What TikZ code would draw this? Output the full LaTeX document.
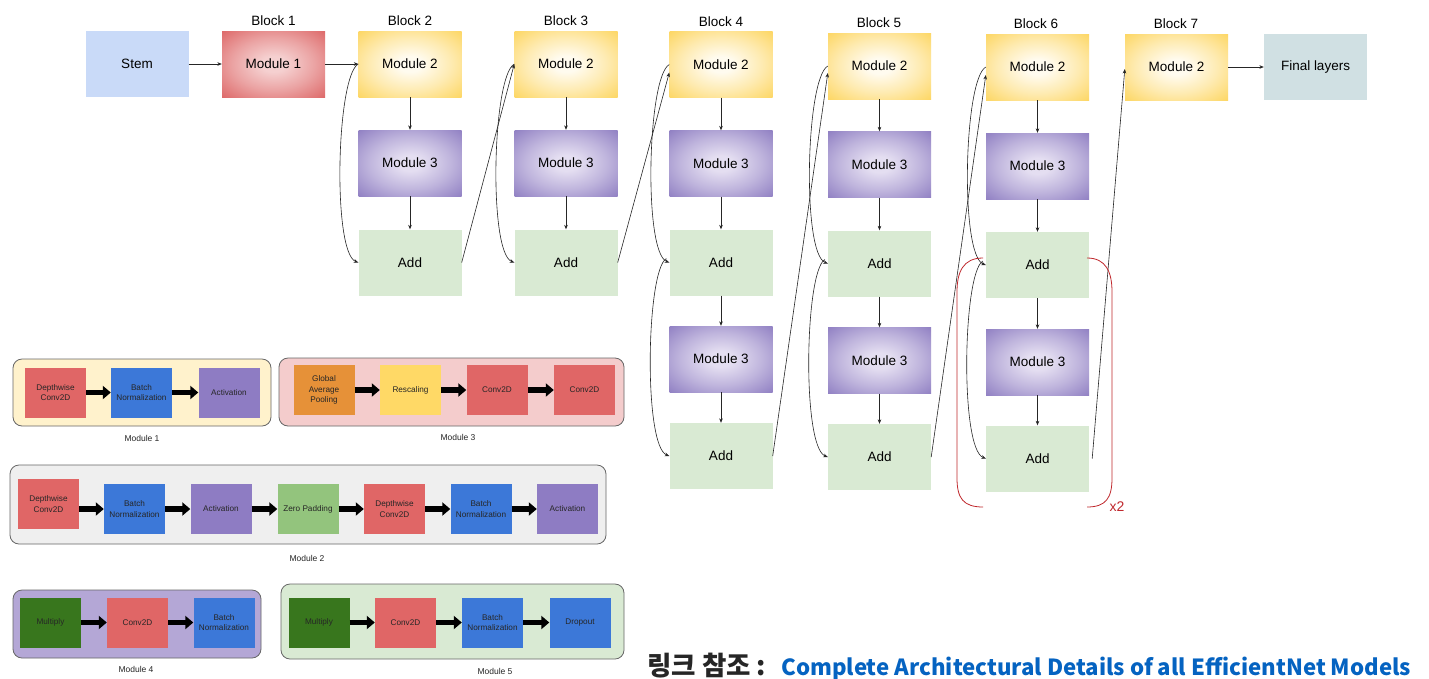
\documentclass[tikz,border=0pt]{standalone}
\usepackage{fontspec}
\setmainfont{Liberation Sans}
\newfontfamily\krfont{Noto Sans CJK KR}
\usetikzlibrary{arrows.meta}
\definecolor{stemc}{HTML}{C9DAF8}
\definecolor{mAin}{HTML}{F5D0D0}
\definecolor{mAout}{HTML}{DE6B6B}
\definecolor{mBin}{HTML}{FFFBEF}
\definecolor{mBout}{HTML}{FDD766}
\definecolor{mCin}{HTML}{E4DEF1}
\definecolor{mCout}{HTML}{9282C4}
\colorlet{mAmid}{mAin!55!mAout}
\colorlet{mBmid}{mBin!55!mBout}
\colorlet{mCmid}{mCin!55!mCout}
\definecolor{addc}{HTML}{D9EAD3}
\definecolor{finc}{HTML}{D0E0E3}
\definecolor{lred}{HTML}{E06666}
\definecolor{lblue}{HTML}{3C78D8}
\definecolor{lpurple}{HTML}{8E7CC3}
\definecolor{lorange}{HTML}{E69138}
\definecolor{lyellow}{HTML}{FFD966}
\definecolor{lgreen}{HTML}{93C47D}
\definecolor{ldgreen}{HTML}{38761D}
\definecolor{pyellow}{HTML}{FFF2CC}
\definecolor{ppink}{HTML}{F4CCCC}
\definecolor{pgray}{HTML}{EFEFEF}
\definecolor{ppurple}{HTML}{B4A7D6}
\definecolor{pgreen}{HTML}{D9EAD3}
\definecolor{bred}{HTML}{C0282D}
\definecolor{linkblue}{HTML}{0563C1}
\definecolor{krblack}{HTML}{262626}
\pgfdeclareradialshading{glowA}{\pgfpoint{0bp}{0bp}}{color(0bp)=(mAin); color(6bp)=(mAin); color(20bp)=(mAmid); color(35bp)=(mAout); color(50bp)=(mAout)}
\pgfdeclareradialshading{glowB}{\pgfpoint{0bp}{0bp}}{color(0bp)=(mBin); color(6bp)=(mBin); color(20bp)=(mBmid); color(35bp)=(mBout); color(50bp)=(mBout)}
\pgfdeclareradialshading{glowC}{\pgfpoint{0bp}{0bp}}{color(0bp)=(mCin); color(6bp)=(mCin); color(20bp)=(mCmid); color(35bp)=(mCout); color(50bp)=(mCout)}
\begin{document}
\begin{tikzpicture}[x=1pt,y=-1pt,
  topbox/.style={minimum width=103pt,minimum height=66pt,inner sep=0pt,font=\fontsize{13.5}{16}\selectfont},
  stembox/.style={topbox,fill=stemc},
  modone/.style={topbox,shade,shading=glowA},
  modtwo/.style={topbox,shade,shading=glowB},
  modthree/.style={topbox,shade,shading=glowC},
  addbox/.style={topbox,fill=addc},
  finbox/.style={topbox,fill=finc},
  blocklabel/.style={font=\fontsize{13.5}{16}\selectfont,inner sep=0pt},
  conn/.style={draw=black!85,line width=0.6pt,-{Stealth[length=4.5pt,width=3.6pt]}},
  panel/.style={draw=black!60,line width=0.8pt,rounded corners=9pt},
  lbox/.style={minimum width=61pt,minimum height=50pt,inner sep=1pt,align=center,font=\fontsize{8.2}{10.5}\selectfont,text=black!85},
  plabel/.style={font=\fontsize{8.5}{10}\selectfont,text=black!85,inner sep=0pt},
  blkarrow/.style={line width=5.5pt,black,-{Triangle[length=8pt,width=13pt]}},
  bracket/.style={draw=bred,line width=0.8pt},
]
\useasboundingbox (0,0) rectangle (1429,678);
\fill[white] (0,0) rectangle (1429,678);

% ---------- top row ----------
\node[stembox] (stem) at (137,64) {Stem};
\node[modone] (m1) at (273.5,64) {Module 1};
\node[blocklabel] (bl1) at (273.5,21) {Block 1};

\node[modtwo] (b2a) at (410,64) {Module 2};
\node[modthree] (b2b) at (410,163) {Module 3};
\node[addbox] (b2c) at (410,262.5) {Add};
\node[blocklabel] (bl2) at (410,21) {Block 2};

\node[modtwo] (b3a) at (566,64) {Module 2};
\node[modthree] (b3b) at (566,163) {Module 3};
\node[addbox] (b3c) at (566,262.5) {Add};
\node[blocklabel] (bl3) at (566,21) {Block 3};

\node[modtwo] (b4a) at (721,64.5) {Module 2};
\node[modthree] (b4b) at (721,163.5) {Module 3};
\node[addbox] (b4c) at (721,262.5) {Add};
\node[modthree] (b4d) at (721,359) {Module 3};
\node[addbox] (b4e) at (721,456) {Add};
\node[blocklabel] (bl4) at (721,22) {Block 4};

\node[modtwo] (b5a) at (879.5,66) {Module 2};
\node[modthree] (b5b) at (879.5,164.5) {Module 3};
\node[addbox] (b5c) at (879.5,263.5) {Add};
\node[modthree] (b5d) at (879.5,360.5) {Module 3};
\node[addbox] (b5e) at (879.5,457) {Add};
\node[blocklabel] (bl5) at (879,23) {Block 5};

\node[modtwo] (b6a) at (1037.5,67) {Module 2};
\node[modthree] (b6b) at (1037.5,166) {Module 3};
\node[addbox] (b6c) at (1037.5,265) {Add};
\node[modthree] (b6d) at (1037.5,362) {Module 3};
\node[addbox] (b6e) at (1037.5,458.5) {Add};
\node[blocklabel] (bl6) at (1036,24) {Block 6};

\node[modtwo] (b7a) at (1176.5,67) {Module 2};
\node[blocklabel] (bl7) at (1176,24) {Block 7};
\node[finbox] (fin) at (1315.5,67) {Final layers};

% connectors
\draw[conn] (stem) -- (m1);
\draw[conn] (m1) -- (b2a);
\draw[conn] (b2a) -- (b2b);
\draw[conn] (b2b) -- (b2c);
\draw[conn] (b2a.west) .. controls +(-22,12) and +(-26,-10) .. (b2c.west);
\draw[conn] (b2c.east) -- (b3a.west);
\draw[conn] (b3a) -- (b3b);
\draw[conn] (b3b) -- (b3c);
\draw[conn] (b3a.west) .. controls +(-22,12) and +(-26,-10) .. (b3c.west);
\draw[conn] (b3c.east) -- ([yshift=-8pt]b4a.west);
\draw[conn] (b4a) -- (b4b);
\draw[conn] (b4b) -- (b4c);
\draw[conn] (b4c) -- (b4d);
\draw[conn] (b4d) -- (b4e);
\draw[conn] (b4a.west) .. controls +(-22,12) and +(-26,-10) .. (b4c.west);
\draw[conn] ([xshift=-3pt,yshift=4pt]b4c.west) .. controls +(-20,12) and +(-26,-10) .. (b4e.west);
\draw[conn] (b4e.east) -- ([yshift=-7pt]b5a.west);
\draw[conn] (b5a) -- (b5b);
\draw[conn] (b5b) -- (b5c);
\draw[conn] (b5c) -- (b5d);
\draw[conn] (b5d) -- (b5e);
\draw[conn] (b5a.west) .. controls +(-22,12) and +(-26,-10) .. (b5c.west);
\draw[conn] ([xshift=-3pt,yshift=4pt]b5c.west) .. controls +(-20,12) and +(-26,-10) .. (b5e.west);
\draw[conn] (b5e.east) -- ([yshift=-8pt]b6a.west);
\draw[conn] (b6a) -- (b6b);
\draw[conn] (b6b) -- (b6c);
\draw[conn] (b6c) -- (b6d);
\draw[conn] (b6d) -- (b6e);
\draw[conn] (b6a.west) .. controls +(-22,12) and +(-26,-10) .. (b6c.west);
\draw[conn] ([xshift=-3pt,yshift=4pt]b6c.west) .. controls +(-20,12) and +(-26,-10) .. (b6e.west);
\draw[conn] ([xshift=3pt]b6e.east) -- ([yshift=-2pt]b7a.west);
\draw[conn] (b7a) -- (fin);

% red repeat bracket
\draw[bracket] (983,258) .. controls (963,258) and (957,272) .. (957,292) -- (957,478) .. controls (957,498) and (963,507) .. (983,507);
\draw[bracket] (1087,258) .. controls (1106,258) and (1112,272) .. (1112,292) -- (1112,478) .. controls (1112,498) and (1106,507) .. (1087,507);
\node[text=bred,font=\fontsize{14}{16}\selectfont,inner sep=0pt] (xtwo) at (1117,507) {x2};

% ---------- legend: Module 1 ----------
\draw[panel,fill=pyellow] (13,359) rectangle (271,426);
\node[lbox,fill=lred] (p1a) at (55.5,392.5) {Depthwise\\Conv2D};
\node[lbox,fill=lblue] (p1b) at (141.5,392.5) {Batch\\Normalization};
\node[lbox,fill=lpurple] (p1c) at (229,392.5) {Activation};
\draw[blkarrow] (p1a) -- (p1b);
\draw[blkarrow] (p1b) -- (p1c);
\node[plabel] (l1) at (142,438) {Module 1};

% ---------- legend: Module 3 ----------
\draw[panel,fill=ppink] (279,358) rectangle (624,426);
\node[lbox,fill=lorange] (p3a) at (324,390) {Global\\Average\\Pooling};
\node[lbox,fill=lyellow] (p3b) at (410.5,390) {Rescaling};
\node[lbox,fill=lred] (p3c) at (497,390) {Conv2D};
\node[lbox,fill=lred] (p3d) at (584.5,390) {Conv2D};
\draw[blkarrow] (p3a) -- (p3b);
\draw[blkarrow] (p3b) -- (p3c);
\draw[blkarrow] (p3c) -- (p3d);
\node[plabel] (l3) at (458,437) {Module 3};

% ---------- legend: Module 2 ----------
\draw[panel,fill=pgray] (10,465) rectangle (606,544);
\node[lbox,fill=lred] (p2a) at (48.5,504) {Depthwise\\Conv2D};
\node[lbox,fill=lblue] (p2b) at (134.5,509) {Batch\\Normalization};
\node[lbox,fill=lpurple] (p2c) at (221,509) {Activation};
\node[lbox,fill=lgreen] (p2d) at (308,509) {Zero Padding};
\node[lbox,fill=lred] (p2e) at (394.5,509) {Depthwise\\Conv2D};
\node[lbox,fill=lblue] (p2f) at (481,509) {Batch\\Normalization};
\node[lbox,fill=lpurple] (p2g) at (567.5,509) {Activation};
\draw[blkarrow] (p2a.east |- p2b.west) -- (p2b.west);
\draw[blkarrow] (p2b) -- (p2c);
\draw[blkarrow] (p2c) -- (p2d);
\draw[blkarrow] (p2d) -- (p2e);
\draw[blkarrow] (p2e) -- (p2f);
\draw[blkarrow] (p2f) -- (p2g);
\node[plabel] (l2) at (307,558) {Module 2};

% ---------- legend: Module 4 ----------
\draw[panel,fill=ppurple] (13,590) rectangle (261,658);
\node[lbox,fill=ldgreen] (p4a) at (50.5,622.5) {Multiply};
\node[lbox,fill=lred] (p4b) at (137.5,622.5) {Conv2D};
\node[lbox,fill=lblue] (p4c) at (224,622.5) {Batch\\Normalization};
\draw[blkarrow] (p4a) -- (p4b);
\draw[blkarrow] (p4b) -- (p4c);
\node[plabel] (l4) at (136,669) {Module 4};

% ---------- legend: Module 5 ----------
\draw[panel,fill=pgreen] (281,584) rectangle (624,659);
\node[lbox,fill=ldgreen] (p5a) at (319,622.5) {Multiply};
\node[lbox,fill=lred] (p5b) at (405.5,622.5) {Conv2D};
\node[lbox,fill=lblue] (p5c) at (492.5,622.5) {Batch\\Normalization};
\node[lbox,fill=lblue] (p5d) at (580,622.5) {Dropout};
\draw[blkarrow] (p5a) -- (p5b);
\draw[blkarrow] (p5b) -- (p5c);
\draw[blkarrow] (p5c) -- (p5d);
\node[plabel] (l5) at (495,671) {Module 5};

% ---------- reference text ----------
\node[anchor=base west,inner sep=0pt,text=krblack,font=\krfont\bfseries\fontsize{26.5}{30}\selectfont] (kr) at (647,675) {링크 참조 :};
\node[anchor=base west,inner sep=0pt,text=linkblue,font=\krfont\bfseries\fontsize{22.2}{26}\selectfont] (link) at (781,675) {Complete Architectural Details of all EfficientNet Models};
\end{tikzpicture}
\end{document}
